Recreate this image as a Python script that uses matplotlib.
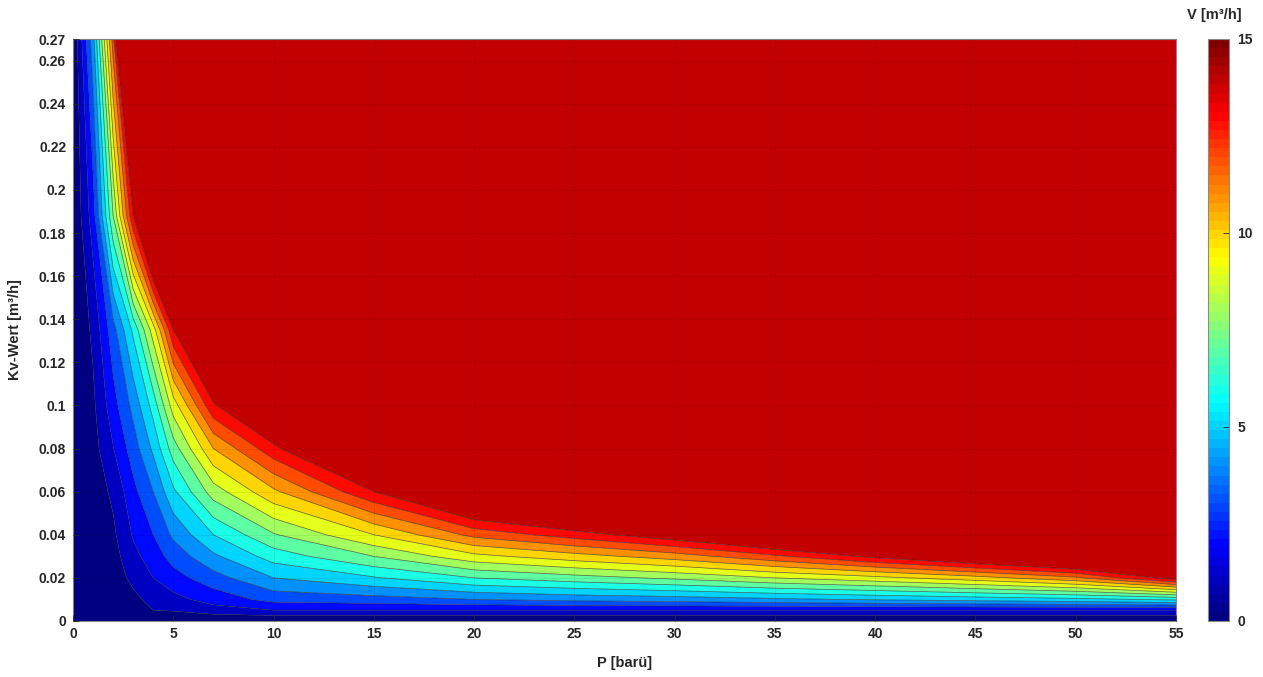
import numpy as np
import matplotlib
matplotlib.use("Agg")
import matplotlib.pyplot as plt
from matplotlib.colors import ListedColormap, Normalize
import matplotlib.cm as cm

plt.rcParams['font.family'] = ['Liberation Sans', 'DejaVu Sans']
plt.rcParams['font.weight'] = 'bold'

# ---- data ----
p_bar = [0, 1, 2, 3, 4, 5, 7, 10, 15, 20, 25, 30, 35, 40, 45, 50, 55]
kv_values = [0, 0.005, 0.01, 0.02, 0.03, 0.04, 0.06, 0.08, 0.10, 0.135, 0.188, 0.27]

# V [m3/h] for each pressure column, one value per Kv row
v_p0 = [0, 0, 0, 0, 0, 0, 0, 0, 0, 0, 0, 0]
v_p1 = [0, 0.03, 0.06, 0.12, 0.2, 0.28, 0.42, 0.6, 0.8, 1.2, 2.5, 4.6]
v_p2 = [0, 0.1, 0.2, 0.4, 0.6, 0.8, 1.2, 1.95, 2.6, 3.6, 8, 12.5]
v_p3 = [0, 0.35, 0.7, 1.3, 1.7, 2.1, 2.7, 3.5, 4.3, 6.2, 14, 26]
v_p4 = [0, 1.0, 1.4, 2.0, 2.5, 3.0, 4.0, 5.2, 6.4, 9.5, 20, 35]
v_p5 = [0, 1.1, 1.7, 2.6, 3.4, 4.2, 5.8, 7.5, 9.5, 14, 22, 40]
v_p7 = [0, 1.6, 2.4, 3.6, 4.8, 6.0, 8.5, 11.0, 13.85, 18, 26, 40]
v_p10 = [0, 2, 3.35, 5, 6.45, 7.9, 10.8, 13.7, 16.6, 22, 30, 45]
v_p15 = [0, 2, 3.6, 5.9, 8.0, 10.0, 14.0, 18, 22, 29, 40, 60]
v_p20 = [0, 2, 4.0, 7.0, 9.7, 12.3, 17.2, 22, 27, 36, 50, 75]
v_p25 = [0, 2, 4.3, 7.6, 10.6, 13.5, 19, 25, 31, 41, 57, 85]
v_p30 = [0, 2, 4.5, 8.2, 11.5, 14.8, 21, 28, 35, 46, 64, 95]
v_p35 = [0, 2, 4.8, 9.0, 12.8, 16.5, 24, 31, 39, 51, 71, 105]
v_p40 = [0, 2, 5.1, 9.7, 14.3, 18.5, 27, 35, 44, 58, 80, 120]
v_p45 = [0, 2, 5.4, 10.6, 15.8, 20.5, 30, 39, 49, 64, 89, 130]
v_p50 = [0, 2, 5.7, 11.8, 17.3, 23, 33, 43, 54, 70, 98, 140]
v_p55 = [0, 2, 6.2, 14.6, 23, 31, 47, 63, 79, 106, 148, 210]

v_columns = [v_p0, v_p1, v_p2, v_p3, v_p4, v_p5, v_p7, v_p10, v_p15, v_p20,
             v_p25, v_p30, v_p35, v_p40, v_p45, v_p50, v_p55]

x_ticks = [0, 5, 10, 15, 20, 25, 30, 35, 40, 45, 50, 55]
y_ticks = [0, 0.02, 0.04, 0.06, 0.08, 0.1, 0.12, 0.14, 0.16, 0.18, 0.2, 0.22, 0.24, 0.26, 0.27]
y_tick_labels = ['0', '0.02', '0.04', '0.06', '0.08', '0.1', '0.12', '0.14', '0.16',
                 '0.18', '0.2', '0.22', '0.24', '0.26', '0.27']
cbar_ticks = [0, 5, 10, 15]
v_max = 15


def matlab_jet(x):
    x = np.asarray(x, dtype=float)
    r = np.clip(1.5 - np.abs(4 * x - 3), 0, 1)
    g = np.clip(1.5 - np.abs(4 * x - 2), 0, 1)
    b = np.clip(1.5 - np.abs(4 * x - 1), 0, 1)
    return np.stack([r, g, b], axis=-1)


P, KV = np.meshgrid(np.array(p_bar, float), np.array(kv_values, float))
V = np.array(v_columns, float).T

fig = plt.figure(figsize=(12.63, 6.77), dpi=100)
W, H = 1263.0, 677.0
ax = fig.add_axes([73 / W, (H - 621) / H, 1103 / W, 582 / H])

line_levels = list(range(0, 15))
fill_levels = line_levels + [1e6]
fill_colors = [tuple(c) for c in matlab_jet(np.array(line_levels) / v_max)]

ax.contourf(P, KV, V, levels=fill_levels, colors=fill_colors, antialiased=True)
ax.contour(P, KV, V, levels=line_levels[1:], colors='#202020', linewidths=0.5, alpha=0.7)

ax.set_xlim(0, 55)
ax.set_ylim(0, 0.27)
ax.set_xticks(x_ticks)
ax.set_xticklabels([str(t) for t in x_ticks])
ax.set_yticks(y_ticks)
ax.set_yticklabels(y_tick_labels)
ax.tick_params(direction='in', length=4, width=0.6, labelsize=10, colors='#262626')
ax.tick_params(axis='x', pad=4)
ax.tick_params(axis='y', pad=5)
for lab in ax.get_xticklabels() + ax.get_yticklabels():
    lab.set_fontweight('bold')
ax.grid(True, color='black', alpha=0.08, linewidth=0.6)
ax.set_axisbelow(False)
for s in ax.spines.values():
    s.set_color('#8a8a8a')
    s.set_linewidth(0.8)
ax.set_xlabel('P [barü]', fontsize=10.5, fontweight='bold', color='#262626', labelpad=11)
ax.set_ylabel('Kv-Wert [m³/h]', fontsize=10.5, fontweight='bold', color='#262626', labelpad=12)

# colorbar
cax = fig.add_axes([1208 / W, (H - 621) / H, 21 / W, 582 / H])
cmap64 = ListedColormap(matlab_jet(np.linspace(0, 1, 64)))
sm = cm.ScalarMappable(norm=Normalize(0, v_max), cmap=cmap64)
cb = fig.colorbar(sm, cax=cax, ticks=cbar_ticks)
cb.ax.tick_params(direction='in', length=4, width=0.6, labelsize=10, colors='#262626', pad=6)
for lab in cb.ax.get_yticklabels():
    lab.set_fontweight('bold')
cb.outline.set_edgecolor('#8a8a8a')
cb.outline.set_linewidth(0.8)
fig.text(1214 / W, (H - 15) / H, 'V [m³/h]', fontsize=10.5, fontweight='bold',
         color='#262626', ha='center', va='center')

fig.savefig('out.png', dpi=100)
